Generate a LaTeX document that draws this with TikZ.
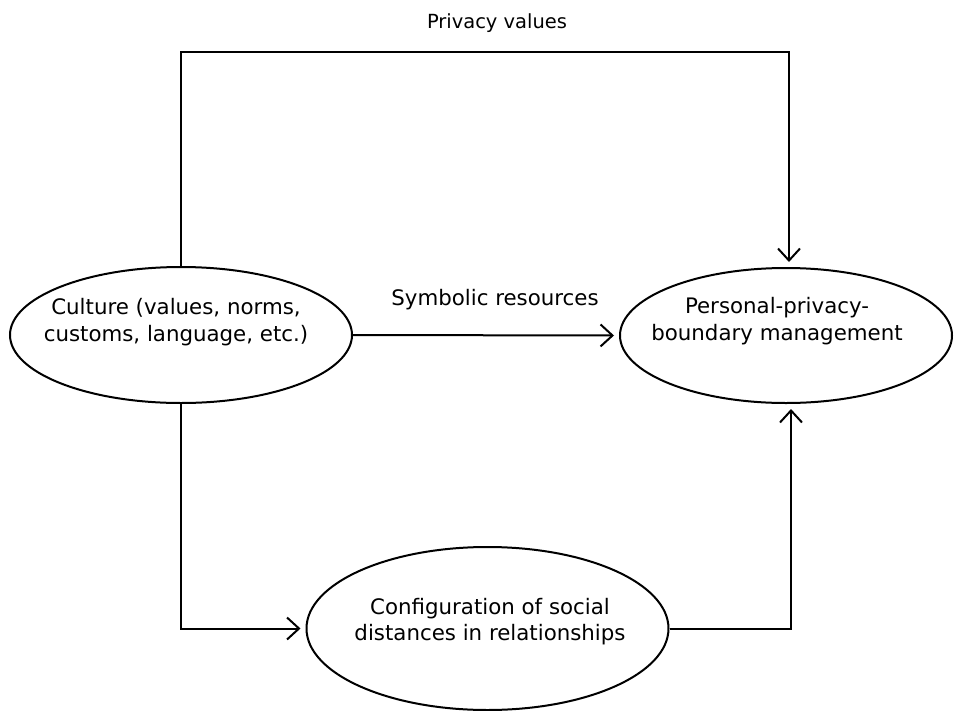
\documentclass[tikz,border=0pt]{standalone}
\usepackage{fontspec}
\setmainfont{DejaVu Sans}
\usetikzlibrary{shapes.geometric,arrows.meta}
\begin{document}
\begin{tikzpicture}[x=0.75pt,y=-0.75pt,
  ell/.style={draw,ellipse,line width=1.5pt,inner sep=0pt},
  txt/.style={anchor=base,align=center,inner sep=0pt,font=\fontsize{16pt}{20.25pt}\selectfont},
  conn/.style={line width=1.5pt},
  arr/.style={line width=1.5pt,-{Straight Barb[length=9pt,width=16.5pt]},shorten >=3.75pt}]
\useasboundingbox (0,0) rectangle (954,711);
\node[ell,minimum width=256.5pt,minimum height=102pt] (cult) at (181,335) {};
\node[ell,minimum width=249pt,minimum height=101.25pt] (pers) at (786,335.5) {};
\node[ell,minimum width=271.5pt,minimum height=122.25pt] (conf) at (487.5,628.5) {};
\node[txt] (culttxt) at (176,341) {Culture (values, norms,\\customs, language, etc.)};
\node[txt] (perstxt) at (777,340) {Personal-privacy-\\boundary management};
\node[txt,font=\fontsize{16pt}{19.5pt}\selectfont] (conftxt) at (490,640) {Configuration of social\\distances in relationships};
\node[txt] (symb) at (495,305) {Symbolic resources};
\node[txt,font=\fontsize{14.6pt}{18pt}\selectfont] (priv) at (497,28) {Privacy values};
\coordinate (tl) at (181,52);
\coordinate (tr) at (789,52);
\draw[arr] (cult.north) -- (tl) -- (tr) -- (tr |- pers.north);
\draw[arr] (cult.east) -- (pers.west);
\draw[arr] (cult.south) |- (conf.west);
\draw[arr] (conf.east) -| ([xshift=3.75pt]pers.south);
\end{tikzpicture}
\end{document}
